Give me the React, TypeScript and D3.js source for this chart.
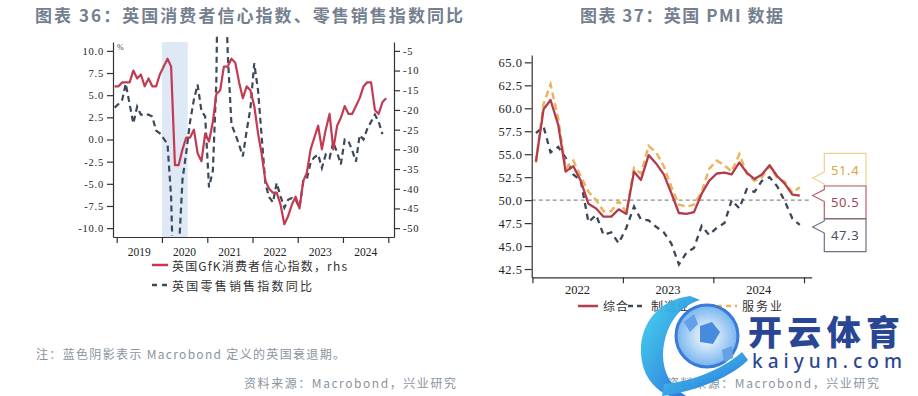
import React, { useEffect, useRef } from 'react';
import * as d3 from 'd3';

// ---- chart 36: GfK consumer confidence (rhs) and retail sales yoy (lhs), monthly from Dec 2018
const gfkValues = [
  -14,
  -14, -13, -13, -13, -10, -12, -11, -14, -12, -14, -14, -11,
  -9, -7, -9, -34, -34, -30, -27, -27, -25, -31, -33, -26,
  -28, -23, -16, -15, -9, -9, -7, -8, -13, -17, -14, -15,
  -19, -26, -31, -38, -40, -41, -41, -44, -49, -47, -44, -42,
  -45, -38, -36, -30, -27, -24, -30, -25, -21, -30, -24, -22,
  -19, -21, -21, -19, -17, -14, -13, -13, -20, -21, -18, -17,
];
const retailValues = [
  3.6,
  4.0, 4.5, 6.3, 4.0, 1.8, 3.7, 2.8, 2.8, 2.8, 2.6, 1.0, 0.7,
  0.1, -0.5, -6.5, -22.0, -13.0, -4.5, -1.5, 2.0, 4.5, 6.2, 3.2, 2.6,
  -5.4, -3.5, 6.5, 40.0, 24.0, 9.7, 1.7, 0.6, -0.6, -1.9, 1.0, 3.5,
  8.6, 5.5, 0.5, -5.0, -6.5, -7.1, -4.9, -6.4, -7.7, -6.8, -6.6, -6.8,
  -7.7, -4.7, -4.5, -2.6, -2.0, -1.7, -3.2, -1.7, -2.1, -0.3, -1.5, -2.8,
  0.0, -0.2, -1.2, -2.5, 0.5, 0.0, 1.2, 2.0, 2.8, 2.0, 0.6,
];
const recession = [new Date(2020, 0, 1), new Date(2020, 6, 27)];
const leftTicks = [-10, -7.5, -5, -2.5, 0, 2.5, 5, 7.5, 10];
const rightTicks = [-50, -45, -40, -35, -30, -25, -20, -15, -10, -5];
const years36 = [2019, 2020, 2021, 2022, 2023, 2024];

// ---- chart 37: UK PMI, monthly from Jan 2022
const composite = [
  54.2, 59.9, 60.9, 58.2, 53.1, 53.7, 52.1, 49.6, 49.1, 48.2, 48.2, 49.0,
  48.5, 53.1, 52.2, 54.9, 54.0, 52.8, 50.8, 48.6, 48.5, 48.7, 50.7, 52.1,
  52.9, 53.0, 52.8, 54.1, 53.0, 52.3, 52.8, 53.8, 52.6, 51.8, 50.6, 50.5,
];
const manufacturing = [
  57.3, 58.0, 55.2, 55.8, 54.6, 52.8, 52.1, 47.6, 48.4, 46.2, 46.5, 45.3,
  47.0, 49.3, 47.9, 47.8, 47.1, 46.5, 45.3, 43.0, 44.3, 44.8, 47.2, 46.2,
  47.0, 47.5, 50.0, 49.1, 51.2, 50.9, 52.1, 52.5, 51.5, 49.9, 48.0, 47.3,
];
const services = [
  54.1, 60.5, 62.6, 58.9, 53.4, 54.3, 52.6, 50.9, 50.0, 48.8, 48.8, 49.9,
  48.7, 53.5, 52.9, 55.9, 55.2, 53.7, 51.5, 49.5, 49.3, 49.5, 50.9, 53.4,
  54.3, 53.8, 53.1, 55.0, 52.9, 52.1, 52.5, 53.7, 52.4, 52.0, 50.8, 51.4,
];
const pmiTicks = [42.5, 45, 47.5, 50, 52.5, 55, 57.5, 60, 62.5, 65];
const years37 = [2022, 2023, 2024];

const serif = '"Liberation Serif", "DejaVu Serif", serif';
const cjk = '"Noto Sans CJK SC", "Noto Sans", sans-serif';

const monthly = (y, m, values) =>
  values.map((v, i) => ({ date: new Date(y, m + i, 15), value: v }));

function App() {
  const svgRef = useRef(null);

  useEffect(() => {
    const svg = d3.select(svgRef.current);
    svg.selectAll('*').remove();
    svg.append('rect').attr('width', 918).attr('height', 396).attr('fill', '#fff');
    const defs = svg.append('defs');

    // titles
    svg.append('text').attr('x', 35).attr('y', 14).attr('dominant-baseline', 'central')
      .attr('font-family', cjk).attr('font-weight', 700).attr('font-size', 17)
      .attr('fill', '#74808f').attr('textLength', 428).attr('lengthAdjust', 'spacing')
      .text('图表 36：英国消费者信心指数、零售销售指数同比');
    svg.append('text').attr('x', 580).attr('y', 14).attr('dominant-baseline', 'central')
      .attr('font-family', cjk).attr('font-weight', 700).attr('font-size', 17)
      .attr('fill', '#74808f').attr('textLength', 203).attr('lengthAdjust', 'spacing')
      .text('图表 37：英国 PMI 数据');

    // ================= chart 36 =================
    const L = { left: 113, right: 394, top: 42, bottom: 237 };
    const x1 = d3.scaleTime().domain([new Date(2018, 11, 2), new Date(2025, 1, 16)]).range([L.left, L.right]);
    const y1 = d3.scaleLinear().domain([-11, 11]).range([L.bottom, L.top]);
    const y1r = d3.scaleLinear().domain([-52.25, -2.75]).range([L.bottom, L.top]);

    svg.append('rect')
      .attr('x', x1(recession[0])).attr('width', x1(recession[1]) - x1(recession[0]))
      .attr('y', L.top).attr('height', L.bottom - L.top).attr('fill', '#dfe9f6');

    defs.append('clipPath').attr('id', 'clip36').append('rect')
      .attr('x', L.left).attr('y', 34).attr('width', L.right - L.left).attr('height', L.bottom - 35);

    const retail = monthly(2018, 11, retailValues);
    const gfk = monthly(2018, 11, gfkValues);

    svg.append('path').datum(retail).attr('clip-path', 'url(#clip36)')
      .attr('fill', 'none').attr('stroke', '#3d4859').attr('stroke-width', 2.2)
      .attr('stroke-dasharray', '6,4')
      .attr('d', d3.line().x((d) => x1(d.date)).y((d) => y1(d.value)));
    svg.append('path').datum(gfk).attr('clip-path', 'url(#clip36)')
      .attr('fill', 'none').attr('stroke', '#c23b53').attr('stroke-width', 2.2)
      .attr('stroke-linejoin', 'round')
      .attr('d', d3.line().x((d) => x1(d.date)).y((d) => y1r(d.value)));

    const styleAxis = (g, size, spacing) => {
      g.attr('font-family', serif).attr('font-size', size);
      g.select('.domain').attr('stroke', '#333').attr('stroke-width', 1.2);
      g.selectAll('.tick line').attr('stroke', '#333').attr('stroke-width', 1.2);
      g.selectAll('text').attr('fill', '#222').attr('letter-spacing', spacing);
    };

    const yAxisL = svg.append('g').attr('transform', `translate(${L.left},0)`)
      .call(d3.axisLeft(y1).tickValues(leftTicks).tickFormat((d) => d.toFixed(1))
        .tickSize(6).tickSizeOuter(0).tickPadding(3));
    styleAxis(yAxisL, 10.5, 0.8);

    const yAxisR = svg.append('g').attr('transform', `translate(${L.right},0)`)
      .call(d3.axisRight(y1r).tickValues(rightTicks).tickFormat((d) => String(d))
        .tickSize(6).tickSizeOuter(0).tickPadding(3));
    styleAxis(yAxisR, 10.5, 0.8);

    const xAxis1 = svg.append('g').attr('transform', `translate(0,${L.bottom})`)
      .call(d3.axisBottom(x1).tickValues(d3.range(2019, 2026).map((y) => new Date(y, 0, 1)))
        .tickFormat(() => '').tickSize(6).tickSizeOuter(0));
    styleAxis(xAxis1, 11, 0);

    svg.append('g').selectAll('text').data(years36).join('text')
      .attr('x', (d) => x1(new Date(d, 6, 2))).attr('y', 252)
      .attr('text-anchor', 'middle').attr('dominant-baseline', 'central')
      .attr('font-family', serif).attr('font-size', 11.5).attr('fill', '#222')
      .text((d) => d);

    svg.append('text').attr('x', 117).attr('y', 50).attr('font-family', serif)
      .attr('font-size', 8).attr('fill', '#444').text('%');

    // legend 36
    svg.append('line').attr('x1', 152).attr('x2', 168).attr('y1', 265).attr('y2', 265)
      .attr('stroke', '#c23b53').attr('stroke-width', 2.5);
    svg.append('text').attr('x', 172).attr('y', 265).attr('dominant-baseline', 'central')
      .attr('font-family', cjk).attr('font-size', 12).attr('fill', '#333')
      .attr('textLength', 175).attr('lengthAdjust', 'spacing')
      .text('英国GfK消费者信心指数，rhs');
    svg.append('line').attr('x1', 152).attr('x2', 168).attr('y1', 285).attr('y2', 285)
      .attr('stroke', '#3d4859').attr('stroke-width', 2.5).attr('stroke-dasharray', '5,5');
    svg.append('text').attr('x', 172).attr('y', 285).attr('dominant-baseline', 'central')
      .attr('font-family', cjk).attr('font-size', 12).attr('fill', '#333')
      .attr('textLength', 140).attr('lengthAdjust', 'spacing')
      .text('英国零售销售指数同比');

    // ================= chart 37 =================
    const R = { left: 531.7, right: 811.7, top: 55, bottom: 277.3 };
    const x2 = d3.scaleTime().domain([new Date(2021, 11, 29), new Date(2025, 1, 1)]).range([R.left, R.right]);
    const y2 = d3.scaleLinear().domain([41.6, 65.8]).range([R.bottom, R.top]);

    svg.append('line').attr('x1', R.left).attr('x2', R.right)
      .attr('y1', y2(50)).attr('y2', y2(50))
      .attr('stroke', '#8f8f8f').attr('stroke-width', 1.2).attr('stroke-dasharray', '4,3');

    const line2 = d3.line().x((d) => x2(d.date)).y((d) => y2(d.value));
    svg.append('path').datum(monthly(2022, 0, manufacturing))
      .attr('fill', 'none').attr('stroke', '#3d4757').attr('stroke-width', 2.3)
      .attr('stroke-dasharray', '6,5').attr('d', line2);
    svg.append('path').datum(monthly(2022, 0, services))
      .attr('fill', 'none').attr('stroke', '#ebb45e').attr('stroke-width', 2.5)
      .attr('stroke-dasharray', '7,4').attr('d', line2);
    svg.append('path').datum(monthly(2022, 0, composite))
      .attr('fill', 'none').attr('stroke', '#b33b4b').attr('stroke-width', 2.3)
      .attr('stroke-linejoin', 'round').attr('d', line2);

    const yAxis2 = svg.append('g').attr('transform', `translate(${R.left},0)`)
      .call(d3.axisLeft(y2).tickValues(pmiTicks).tickFormat((d) => d.toFixed(1))
        .tickSize(7).tickSizeOuter(0).tickPadding(2));
    styleAxis(yAxis2, 12.5, 0.6);

    const xAxis2 = svg.append('g').attr('transform', `translate(0,${R.bottom})`)
      .call(d3.axisBottom(x2).tickValues(d3.range(2022, 2026).map((y) => new Date(y, 0, 1)))
        .tickFormat(() => '').tickSize(6).tickSizeOuter(0));
    styleAxis(xAxis2, 12, 0);

    svg.append('g').selectAll('text').data(years37).join('text')
      .attr('x', (d) => x2(new Date(d, 6, 2))).attr('y', 290)
      .attr('text-anchor', 'middle').attr('dominant-baseline', 'central')
      .attr('font-family', serif).attr('font-size', 12.5).attr('fill', '#222')
      .text((d) => d);

    // end-value callouts
    const callouts = [
      { value: services[services.length - 1], top: 153.3, stroke: '#edd08f', fill: '#d9a545' },
      { value: composite[composite.length - 1], top: 186, stroke: '#b65f6d', fill: '#9a4856' },
      { value: manufacturing[manufacturing.length - 1], top: 219, stroke: '#6b7380', fill: '#4a505a' },
    ];
    const bx0 = 824.3;
    const bx1 = 866;
    const bh = 32.7;
    callouts.forEach((c) => {
      const bottom = c.top + bh;
      const tip = Math.max(c.top + 8, Math.min(bottom - 8, y2(c.value)));
      svg.append('path')
        .attr('d', `M${bx0},${c.top} H${bx1} V${bottom} H${bx0} V${tip + 6} L${bx0 - 11.6},${tip} L${bx0},${tip - 6} Z`)
        .attr('fill', '#fff').attr('stroke', c.stroke).attr('stroke-width', 1.2);
      svg.append('text').attr('x', (bx0 + bx1) / 2).attr('y', c.top + bh / 2)
        .attr('text-anchor', 'middle').attr('dominant-baseline', 'central')
        .attr('font-family', '"Noto Sans", sans-serif').attr('font-size', 13)
        .attr('letter-spacing', 0.6).attr('fill', c.fill).text(c.value.toFixed(1));
    });

    // legend 37
    const leg = [
      { x: 578, w: 20, text: '综合', color: '#b33b4b', dash: null, tl: 25 },
      { x: 628, w: 18, text: '制造业', color: '#3d4757', dash: '5,4', tl: 38 },
      { x: 717, w: 20, text: '服务业', color: '#ebb45e', dash: '5,4', tl: 40 },
    ];
    leg.forEach((l) => {
      svg.append('line').attr('x1', l.x).attr('x2', l.x + l.w).attr('y1', 306).attr('y2', 306)
        .attr('stroke', l.color).attr('stroke-width', 2.5)
        .attr('stroke-dasharray', l.dash);
      svg.append('text').attr('x', l.x + l.w + 5).attr('y', 305).attr('dominant-baseline', 'central')
        .attr('font-family', cjk).attr('font-size', 12).attr('fill', '#333')
        .attr('textLength', l.tl).attr('lengthAdjust', 'spacing').text(l.text);
    });

    // notes
    svg.append('text').attr('x', 36).attr('y', 353).attr('dominant-baseline', 'central')
      .attr('font-family', cjk).attr('font-size', 12).attr('fill', '#8a94a0')
      .attr('textLength', 309).attr('lengthAdjust', 'spacing')
      .text('注：蓝色阴影表示 Macrobond 定义的英国衰退期。');
    [244, 667].forEach((x) => {
      svg.append('text').attr('x', x).attr('y', 382).attr('dominant-baseline', 'central')
        .attr('font-family', cjk).attr('font-size', 12).attr('fill', '#8a94a0')
        .attr('textLength', 212).attr('lengthAdjust', 'spacing')
        .text('资料来源：Macrobond，兴业研究');
    });

    // watermark (rough)
    const grad = defs.append('linearGradient').attr('id', 'wmk').attr('x1', 0).attr('y1', 0).attr('x2', 1).attr('y2', 1);
    grad.append('stop').attr('offset', '0%').attr('stop-color', '#3fd6ee');
    grad.append('stop').attr('offset', '100%').attr('stop-color', '#1f63d8');
    const ball = defs.append('radialGradient').attr('id', 'ball');
    ball.append('stop').attr('offset', '0%').attr('stop-color', '#ffffff');
    ball.append('stop').attr('offset', '100%').attr('stop-color', '#6fb0ee');
    const wm = svg.append('g').attr('opacity', 0.95);
    wm.append('path')
      .attr('d', 'M690,296 C655,300 636,330 642,362 C646,382 660,394 676,398 L690,398 C668,388 660,366 664,344 C668,322 680,306 700,300 Z')
      .attr('fill', 'url(#wmk)');
    wm.append('path')
      .attr('d', 'M662,396 C690,392 728,380 748,360 L742,352 C722,370 690,382 664,384 Z')
      .attr('fill', 'url(#wmk)');
    wm.append('circle').attr('cx', 707).attr('cy', 336).attr('r', 31)
      .attr('fill', 'url(#ball)').attr('stroke', '#2f74d6').attr('stroke-width', 3);
    wm.append('path').attr('d', 'M700,326 L712,322 L720,332 L713,344 L700,342 Z').attr('fill', '#3d85dd');
    wm.append('path').attr('d', 'M684,322 L694,314 L698,324 L690,332 Z').attr('fill', '#5b9be4');
    wm.append('path').attr('d', 'M722,350 L732,346 L733,358 L724,362 Z').attr('fill', '#5b9be4');
    wm.append('text').attr('x', 748).attr('y', 330).attr('dominant-baseline', 'central')
      .attr('font-family', cjk).attr('font-weight', 900).attr('font-size', 34)
      .attr('fill', '#1d3d8f').attr('textLength', 152).attr('lengthAdjust', 'spacing')
      .text('开云体育');
    wm.append('text').attr('x', 752).attr('y', 361).attr('dominant-baseline', 'central')
      .attr('font-family', '"Noto Sans", sans-serif').attr('font-weight', 500).attr('font-size', 19)
      .attr('fill', '#1d3d8f').attr('textLength', 150).attr('lengthAdjust', 'spacing')
      .text('kaiyun.com');
  }, []);

  return (
    <svg
      ref={svgRef}
      width={918}
      height={396}
      style={{ position: 'absolute', left: 0, top: 0, display: 'block' }}
    />
  );
}

export default App;
